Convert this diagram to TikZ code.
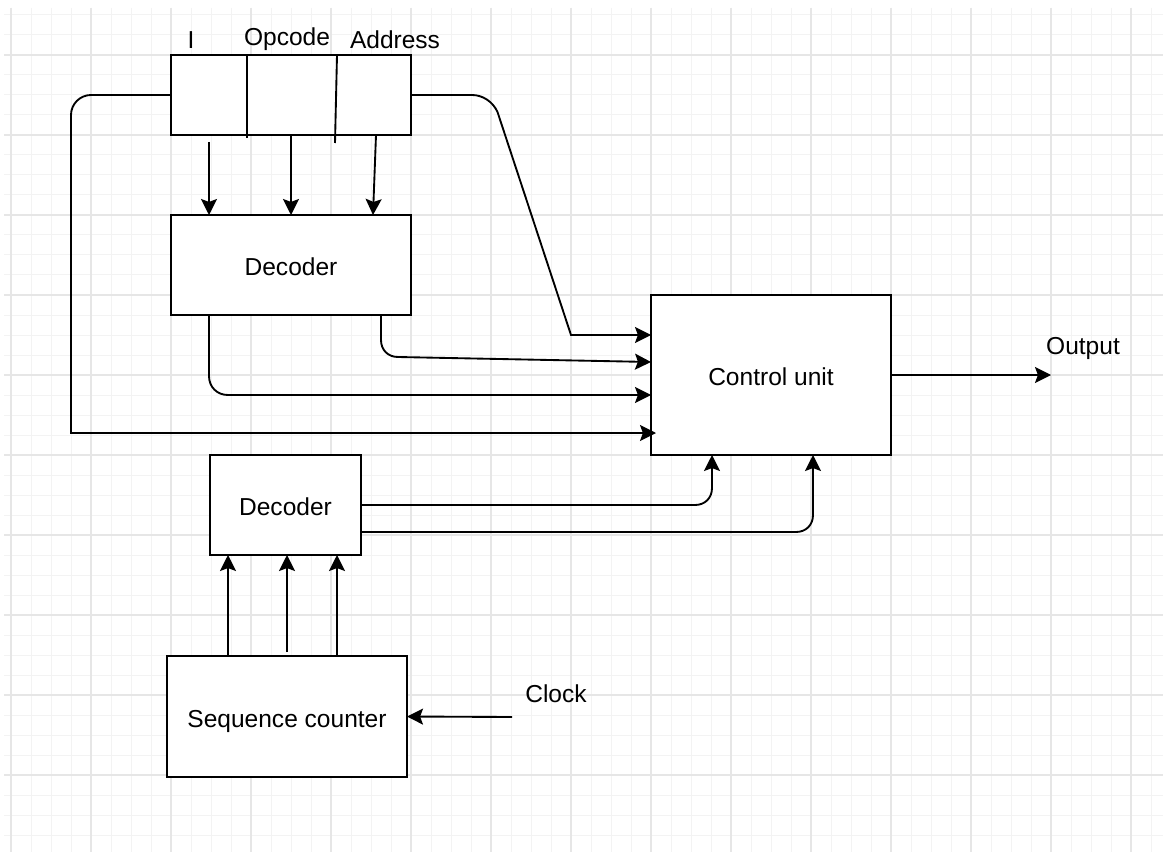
\documentclass[tikz,border=0pt]{standalone}
\usepackage{fontspec}
\setmainfont{Liberation Sans}
\usetikzlibrary{arrows.meta,calc}
\definecolor{gridminor}{HTML}{F3F3F3}
\definecolor{gridmajor}{HTML}{E6E6E6}
\begin{document}
\begin{tikzpicture}[x=0.75pt,y=-0.75pt,
  font=\fontsize{18.4pt}{22pt}\selectfont,
  box/.style={draw=black,line width=1.4pt,fill=white,inner sep=0pt,outer sep=0pt,text height=15.75pt,text depth=0pt},
  lbl/.style={inner sep=0pt,anchor=base},
  wire/.style={line width=1.4pt},
  arr/.style={line width=1.4pt,-{Stealth[length=12pt,width=12pt,inset=2.2pt]}}]
\useasboundingbox (0,0) rectangle (1163,852);
\fill[white] (0,0) rectangle (1163,852);
% grid
\foreach \x in {11,31,...,1151} \draw[gridminor,line width=0.75pt] (\x,8) -- (\x,852);
\foreach \y in {15,35,...,835} \draw[gridminor,line width=0.75pt] (4,\y) -- (1163,\y);
\foreach \x in {11,91,...,1131} \draw[gridmajor,line width=0.8pt] (\x,8) -- (\x,852);
\foreach \y in {55,135,...,775} \draw[gridmajor,line width=0.8pt] (4,\y) -- (1163,\y);

% boxes
\node[box,minimum width=180pt,minimum height=60pt] (IR) at (291,95) {};
\node[box,minimum width=180pt,minimum height=75pt] (D1) at (291,265) {Decoder};
\node[box,minimum width=180pt,minimum height=120pt] (CU) at (771,375) {Control unit};
\node[box,minimum width=113.25pt,minimum height=75pt] (D2) at (285.5,505) {Decoder};
\node[box,minimum width=180pt,minimum height=90.75pt] (SC) at (287,716.5) {Sequence counter};

% instruction register fields
\draw[wire] ($(IR.north west)+(76,0)$) -- ($(IR.north west)+(76,83)$);
\draw[wire] ($(IR.north west)+(166,0)$) -- ($(IR.north west)+(164,88)$);

% labels
\node[lbl] (lI) at (191,49) {I};
\node[lbl] (lOp) at (287,46) {Opcode};
\node[lbl] (lAd) at (395,49) {Address};
\node[lbl] (lClk) at (556,702) {Clock};
\node[lbl] (lOut) at (1083,354) {Output};

\coordinate (clk) at (512,717);
\coordinate (out) at (1051,375);

% IR -> D1
\draw[arr] ($(IR.south west)+(38,7)$) -- ($(D1.north west)+(38,0)$);
\draw[arr] (IR.south) -- (D1.north);
\draw[arr] ($(IR.south west)+(205,0)$) -- ($(D1.north west)+(202,0)$);

% IR east -> CU
\draw[arr] (IR.east) -- (472,95) .. controls (483,95) and (493,102) .. (497.5,112) -- (571,335) -- ($(CU.north west)+(0,40)$);

% D1 -> CU
\draw[arr] ($(D1.south west)+(210,0)$) -- (381,340) .. controls (381,350) and (388,357) .. (398,357) -- ($(CU.north west)+(0,67)$);
\draw[arr] ($(D1.south west)+(38,0)$) -- (209,376) .. controls (209,387) and (217,395) .. (228,395) -- ($(CU.north west)+(0,100)$);

% IR west loop -> CU
\draw[arr] (IR.west) -- (91,95) .. controls (80,95) and (71,104) .. (71,115) -- (71,433) -- ($(CU.north west)+(5,138)$);

% D2 -> CU
\draw[arr] (D2.east) -- (695,505) .. controls (705,505) and (712,498) .. (712,488) -- ($(CU.south west)+(61,0)$);
\draw[arr] ($(D2.south east)+(0,-23)$) -- (796,532) .. controls (806,532) and (813,525) .. (813,515) -- ($(CU.south west)+(162,0)$);

% SC -> D2
\draw[arr] ($(SC.north west)+(61,0)$) -- ($(D2.south west)+(18,0)$);
\draw[arr] ($(SC.north west)+(120,-4)$) -- ($(D2.south west)+(77,0)$);
\draw[arr] ($(SC.north west)+(170,0)$) -- ($(D2.south west)+(127,0)$);

% clock and output
\draw[arr] (clk) -- (SC.east);
\draw[arr] (CU.east) -- (out);
\end{tikzpicture}
\end{document}
